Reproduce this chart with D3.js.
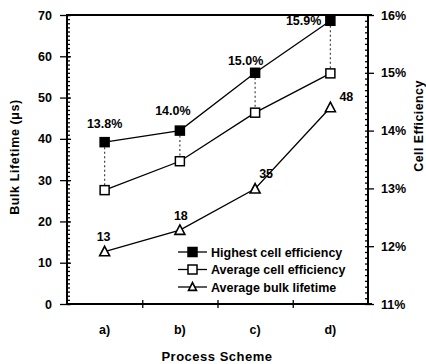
<!DOCTYPE html>
<html><head><meta charset="utf-8">
<script src="https://cdn.jsdelivr.net/npm/d3@7"></script>
<style>
html,body{margin:0;padding:0;background:#fff;}
svg{display:block;font-family:"Liberation Sans",Arial,sans-serif;}
text{font-weight:bold;fill:#000;}
</style></head>
<body>
<svg id="chart" width="426" height="364"></svg>
<script>
// ---- data ----
const categories = ["a)", "b)", "c)", "d)"];
const highestEfficiency = [13.8, 14.0, 15.0, 15.9];      // % (right axis)
const averageEfficiency = [12.97, 13.47, 14.31, 14.99];  // % (right axis)
const averageLifetime = [12.7, 17.9, 27.9, 47.6];        // µs (left axis, as drawn)
const efficiencyLabels = ["13.8%", "14.0%", "15.0%", "15.9%"];
const lifetimeLabels = ["13", "18", "35", "48"];
const leftTicks = [0, 10, 20, 30, 40, 50, 60, 70];
const rightTicks = [11, 12, 13, 14, 15, 16];
const legendLabels = ["Highest cell efficiency", "Average cell efficiency", "Average bulk lifetime"];

// ---- layout ----
const L = 67, R = 368, T = 15, B = 304;
const svg = d3.select("#chart");
const x = d3.scaleBand().domain(categories).range([L, R]);
const xb = d3.scaleLinear().domain([0, categories.length]).range([L, R]);
const yL = d3.scaleLinear().domain([0, 70]).range([B, T]);
const yR = d3.scaleLinear().domain([11, 16]).range([B, T]);
const cx = (d, i) => x(categories[i]) + x.bandwidth() / 2;

// label placement (dx, dy, anchor)
const effLabelPos = [[0, -14, "middle"], [-7, -16, "middle"], [-9.5, -8, "middle"], [-9, 4, "end"]];
const lifeLabelPos = [[-1, -11, "middle"], [1, -10.5, "middle"], [11, -10.5, "middle"], [16, -6, "middle"]];

// ---- axes ----
function styleAxis(g) {
  g.select(".domain").remove();
  g.selectAll("line").attr("stroke", "#000").attr("stroke-width", 1.3);
  g.selectAll("text").attr("font-size", "12.5px").attr("font-weight", "bold");
}
// left minor ticks (inside)
svg.append("g").attr("transform", `translate(${L},0)`)
  .call(d3.axisRight(yL).tickValues(d3.range(0, 70.01, 1)).tickSize(3).tickFormat(""))
  .call(styleAxis);
// left major ticks
const gl = svg.append("g").attr("transform", `translate(${L},0)`)
  .call(d3.axisLeft(yL).tickValues(leftTicks).tickSize(6).tickPadding(9).tickSizeOuter(0))
  .call(styleAxis);
gl.selectAll(".tick line").attr("x2", -7).attr("x1", 4);

// right minor ticks (inside)
svg.append("g").attr("transform", `translate(${R},0)`)
  .call(d3.axisLeft(yR).tickValues(d3.range(11, 16.001, 0.1)).tickSize(3).tickFormat(""))
  .call(styleAxis);
// right major
const gr = svg.append("g").attr("transform", `translate(${R},0)`)
  .call(d3.axisRight(yR).tickValues(rightTicks).tickSize(6).tickPadding(7).tickFormat(d => d + "%"))
  .call(styleAxis);

// x axis boundary ticks
const gx = svg.append("g").attr("transform", `translate(0,${B})`)
  .call(d3.axisBottom(xb).tickValues(d3.range(1, categories.length)).tickSize(4).tickFormat(""))
  .call(styleAxis);
gx.selectAll(".tick line").attr("y1", -4).attr("y2", 4);
// x category labels
const gxl = svg.append("g").attr("transform", `translate(0,${B})`)
  .call(d3.axisBottom(x).tickSize(0).tickPadding(21))
  .call(styleAxis);
gxl.selectAll("text").attr("font-size", "12.5px");

// frame
const frame = svg.append("g").attr("stroke", "#000").attr("stroke-width", 2).attr("fill", "none");
frame.append("line").attr("x1", L).attr("x2", L).attr("y1", T - 1).attr("y2", B + 1);
frame.append("line").attr("x1", R).attr("x2", R).attr("y1", T - 1).attr("y2", B + 1);
frame.append("line").attr("x1", L).attr("x2", R + 4).attr("y1", T).attr("y2", T);
frame.append("line").attr("x1", L - 1).attr("x2", R + 4).attr("y1", B).attr("y2", B);

// axis titles
svg.append("text").attr("transform", `translate(19,157) rotate(-90)`)
  .attr("text-anchor", "middle").attr("font-size", "12.5px").attr("letter-spacing", "0.6px")
  .text("Bulk Lifetime (\u03BCs)");
svg.append("text").attr("transform", `translate(423,126) rotate(-90)`)
  .attr("text-anchor", "middle").attr("font-size", "12.5px").attr("letter-spacing", "0.4px")
  .text("Cell Efficiency");
svg.append("text").attr("x", 217).attr("y", 361).attr("text-anchor", "middle")
  .attr("font-size", "13px").attr("letter-spacing", "0.5px").text("Process Scheme");

// dotted connectors
svg.append("g").selectAll("line").data(highestEfficiency).join("line")
  .attr("x1", cx).attr("x2", cx)
  .attr("y1", d => yR(d) + 5)
  .attr("y2", (d, i) => yR(averageEfficiency[i]) - 5)
  .attr("stroke", "#444").attr("stroke-width", 1.2).attr("stroke-dasharray", "2,2.5");

// lines
const line = (scale) => d3.line().x(cx).y(d => scale(d));
[[highestEfficiency, yR], [averageEfficiency, yR], [averageLifetime, yL]].forEach(([vals, s]) => {
  svg.append("path").datum(vals).attr("d", line(s))
    .attr("fill", "none").attr("stroke", "#000").attr("stroke-width", 1.3);
});

// markers
function square(g, px, py, filled, size) {
  g.append("rect").attr("x", px - size / 2).attr("y", py - size / 2)
    .attr("width", size).attr("height", size)
    .attr("fill", filled ? "#000" : "#fff").attr("stroke", "#000").attr("stroke-width", 1.5);
}
function tri(g, px, py, size) {
  const h = size * 0.85;
  g.append("path").attr("d", `M${px},${py - h / 2 - 1}L${px + size / 2},${py + h / 2}L${px - size / 2},${py + h / 2}Z`)
    .attr("fill", "#fff").attr("stroke", "#000").attr("stroke-width", 1.6).attr("stroke-linejoin", "miter");
}
const gm = svg.append("g");
highestEfficiency.forEach((d, i) => square(gm, cx(d, i), yR(d), true, 9));
averageEfficiency.forEach((d, i) => square(gm, cx(d, i), yR(d), false, 9));
averageLifetime.forEach((d, i) => tri(gm, cx(d, i), yL(d), 10));

// data labels
svg.append("g").selectAll("text").data(highestEfficiency).join("text")
  .attr("x", (d, i) => cx(d, i) + effLabelPos[i][0])
  .attr("y", (d, i) => yR(d) + effLabelPos[i][1])
  .attr("text-anchor", (d, i) => effLabelPos[i][2])
  .attr("font-size", "12.5px")
  .text((d, i) => efficiencyLabels[i]);
svg.append("g").selectAll("text").data(averageLifetime).join("text")
  .attr("x", (d, i) => cx(d, i) + lifeLabelPos[i][0])
  .attr("y", (d, i) => yL(d) + lifeLabelPos[i][1])
  .attr("text-anchor", (d, i) => lifeLabelPos[i][2])
  .attr("font-size", "12.5px")
  .text((d, i) => lifetimeLabels[i]);

// legend
const lg = svg.append("g");
legendLabels.forEach((lab, i) => {
  const ly = 252 + i * 17.5;
  lg.append("line").attr("x1", 178).attr("x2", 207).attr("y1", ly).attr("y2", ly)
    .attr("stroke", "#000").attr("stroke-width", 1.3);
  if (i === 0) square(lg, 192.5, ly, true, 9);
  else if (i === 1) square(lg, 192.5, ly, false, 9);
  else tri(lg, 192.5, ly, 8);
  lg.append("text").attr("x", 211).attr("y", ly + 4.5).attr("font-size", "12.5px").text(lab);
});
</script>
</body></html>
